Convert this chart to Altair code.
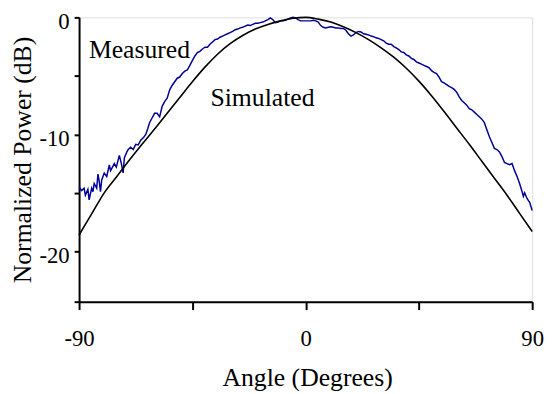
import altair as alt
import pandas as pd

# Simulated pattern (dB) every 5 degrees
sim_angle = [-90, -85, -80, -75, -70, -65, -60, -55, -50, -45, -40, -35, -30, -25, -20, -15, -10, -5,
             0, 5, 10, 15, 20, 25, 30, 35, 40, 45, 50, 55, 60, 65, 70, 75, 80, 85, 90]
sim_db = [-18.6, -16.8, -15.0, -13.6, -12.2, -10.85, -9.55, -8.2, -6.85, -5.5, -4.25, -3.15, -2.25, -1.55, -1.0, -0.6, -0.3, -0.08,
          0.0, -0.15, -0.4, -0.8, -1.3, -1.9, -2.6, -3.4, -4.35, -5.45, -6.7, -8.05, -9.45, -10.85, -12.3, -13.75, -15.2, -16.75, -18.3]

# Measured pattern (dB)
meas_angle = [-90, -89, -88, -87.5, -86.5, -86, -85, -84.5, -84, -83, -82.5, -82, -81.5, -81, -80, -79, -78, -77.5,
              -77, -76, -75.2, -74.5, -74, -73.2, -72.5, -72, -71, -70.5, -69.5, -68.5, -67.5, -66.5, -65.5, -64.5,
              -63.5, -62.7, -62, -61, -60, -59, -58, -57, -56, -55, -54, -53, -52, -51, -50, -49, -48, -47, -46,
              -45, -44, -43, -42, -41, -40, -39, -38, -37, -36, -35, -34, -33, -32, -31, -30, -29, -28, -27, -26,
              -25, -24, -23, -22, -21, -20, -19, -18, -17, -16, -15, -14, -13, -12, -11, -10, -9, -8, -7, -6, -5,
              -4, -3, -2, -1, 0, 1, 2, 3, 4, 5, 6, 7, 8, 9, 10, 11, 12, 13, 14, 15, 16, 17, 18, 19, 20, 21, 22, 23,
              24, 25, 26, 27, 28, 29, 30, 31, 32, 33, 34, 35, 36, 37, 38, 39, 40, 41, 42, 43, 44, 45, 46, 47, 48,
              49, 50, 51, 52, 53, 54, 55, 56, 57, 58, 59, 60, 61, 62, 63, 64, 65, 66, 67, 68, 69, 70, 71, 72, 73,
              74, 75, 76, 77, 78, 79, 80, 81, 82, 83, 84, 85, 86, 86.5, 87, 88, 89, 90]
meas_db = [-14.5, -14.8, -14.6, -15.2, -14.7, -15.6, -14.6, -14.9, -14.2, -14.6, -13.4, -14.0, -14.9, -13.9, -13.3,
           -13.6, -12.6, -13.1, -12.9, -12.5, -12.8, -12.2, -11.8, -12.5, -13.3, -12.0, -11.5, -11.3, -11.1, -11.3,
           -10.85, -10.9, -10.5, -10.3, -10.0, -9.5, -9.0, -8.6, -8.2, -8.2, -8.5, -7.6, -7.2, -6.9, -6.2, -5.8,
           -5.5, -5.2, -5.1, -4.8, -4.6, -4.5, -4.1, -3.7, -3.3, -3.0, -2.9, -2.7, -2.55, -2.55, -2.3, -2.1, -1.9,
           -1.85, -1.7, -1.6, -1.5, -1.4, -1.3, -1.2, -1.05, -1.0, -0.9, -0.85, -0.75, -0.65, -0.7, -0.6, -0.5,
           -0.5, -0.45, -0.4, -0.3, -0.2, -0.05, -0.2, -0.45, -0.4, -0.3, -0.3, -0.25, -0.15, -0.05, 0.0, -0.05,
           -0.2, -0.3, -0.3, -0.3, -0.3, -0.3, -0.25, -0.3, -0.4, -0.7, -0.85, -0.9, -0.85, -0.8, -0.85, -0.9,
           -0.9, -0.95, -0.95, -1.1, -1.4, -1.6, -1.5, -1.3, -1.2, -1.25, -1.4, -1.45, -1.5, -1.6, -1.65, -1.75,
           -1.8, -1.9, -2.0, -2.2, -2.3, -2.3, -2.5, -2.6, -2.75, -2.95, -3.0, -3.2, -3.3, -3.5, -3.6, -3.8, -3.9,
           -4.0, -4.1, -4.2, -4.3, -4.55, -4.7, -4.8, -5.1, -5.5, -5.6, -5.75, -5.9, -6.0, -6.15, -6.4, -6.8,
           -7.1, -7.3, -7.5, -7.8, -7.9, -8.1, -8.3, -8.5, -8.7, -9.0, -9.6, -10.2, -10.7, -11.2, -11.3, -11.5,
           -11.9, -12.4, -12.5, -12.6, -12.5, -13.1, -13.6, -14.2, -14.9, -15.3, -15.0, -15.5, -15.8, -16.5]

x_ticks = [-90, -45, 0, 45, 90]
y_ticks = [-24.3, -20, -15, -10, -5, 0]

label_text = ["Measured", "Simulated"]

sim_df = pd.DataFrame({"angle": sim_angle, "db": sim_db})
meas_df = pd.DataFrame({"angle": meas_angle, "db": meas_db})
one_row = pd.DataFrame({"k": [0]})

FONT = "Liberation Serif"

x_enc = alt.X(
    "angle:Q",
    scale=alt.Scale(domain=[-90, 90], nice=False, zero=False),
    axis=alt.Axis(
        values=x_ticks, labelExpr="abs(datum.value) == 45 ? '' : toString(datum.value)",
        title="Angle (Degrees)", grid=False, tickSize=8, tickWidth=2, domainWidth=2,
        domainColor="black", tickColor="black", labelColor="black", titleColor="black",
        labelFont=FONT, labelFontSize=23, titleFont=FONT, titleFontSize=26, titleFontWeight="normal",
        labelBaseline="alphabetic", labelPadding=36, labelFlush=False, labelOverlap=False,
        titleX=231, titleY=85, titleBaseline="alphabetic", titleAlign="center", titleAnchor="middle",
    ),
)
y_enc = alt.Y(
    "db:Q",
    scale=alt.Scale(domain=[-24.3, 0], nice=False, zero=False),
    axis=alt.Axis(
        values=y_ticks, labelExpr="datum.value % 10 == 0 ? toString(datum.value) : ''",
        title="Normalized Power (dB)", grid=False, tickSize=5, tickWidth=2, domainWidth=2,
        domainColor="black", tickColor="black", labelColor="black", titleColor="black",
        labelFont=FONT, labelFontSize=23, titleFont=FONT, titleFontSize=26, titleFontWeight="normal",
        labelPadding=5, labelFlush=False, labelOverlap=False, labelBaseline="middle", labelOffset=4,
        titleX=-57, titleY=144, titleAngle=270, titleBaseline="middle", titleAlign="center",
    ),
)

sim_line = alt.Chart(sim_df).mark_line(color="black", strokeWidth=1.6, interpolate="monotone").encode(
    x=x_enc, y=y_enc
)
meas_line = alt.Chart(meas_df).mark_line(color="#000096", strokeWidth=1.5).encode(
    x="angle:Q", y="db:Q"
)

label_meas = alt.Chart(one_row).mark_text(
    text=label_text[0], font=FONT, fontSize=26, align="left", baseline="alphabetic", color="black"
).encode(x=alt.datum(-86.1), y=alt.datum(-3.48))
label_sim = alt.Chart(one_row).mark_text(
    text=label_text[1], font=FONT, fontSize=26, align="left", baseline="alphabetic", color="black"
).encode(x=alt.datum(-37.8), y=alt.datum(-7.6))

chart = alt.layer(meas_line, sim_line, label_meas, label_sim).properties(
    width=459, height=288,
    padding={"left": 72, "top": 7, "right": 14, "bottom": 88},
    autosize=alt.AutoSizeParams(type="none"),
).configure_view(stroke="black", strokeWidth=2).configure(background="white")

chart.save("out.html", embed_options={"renderer": "svg", "actions": False})
